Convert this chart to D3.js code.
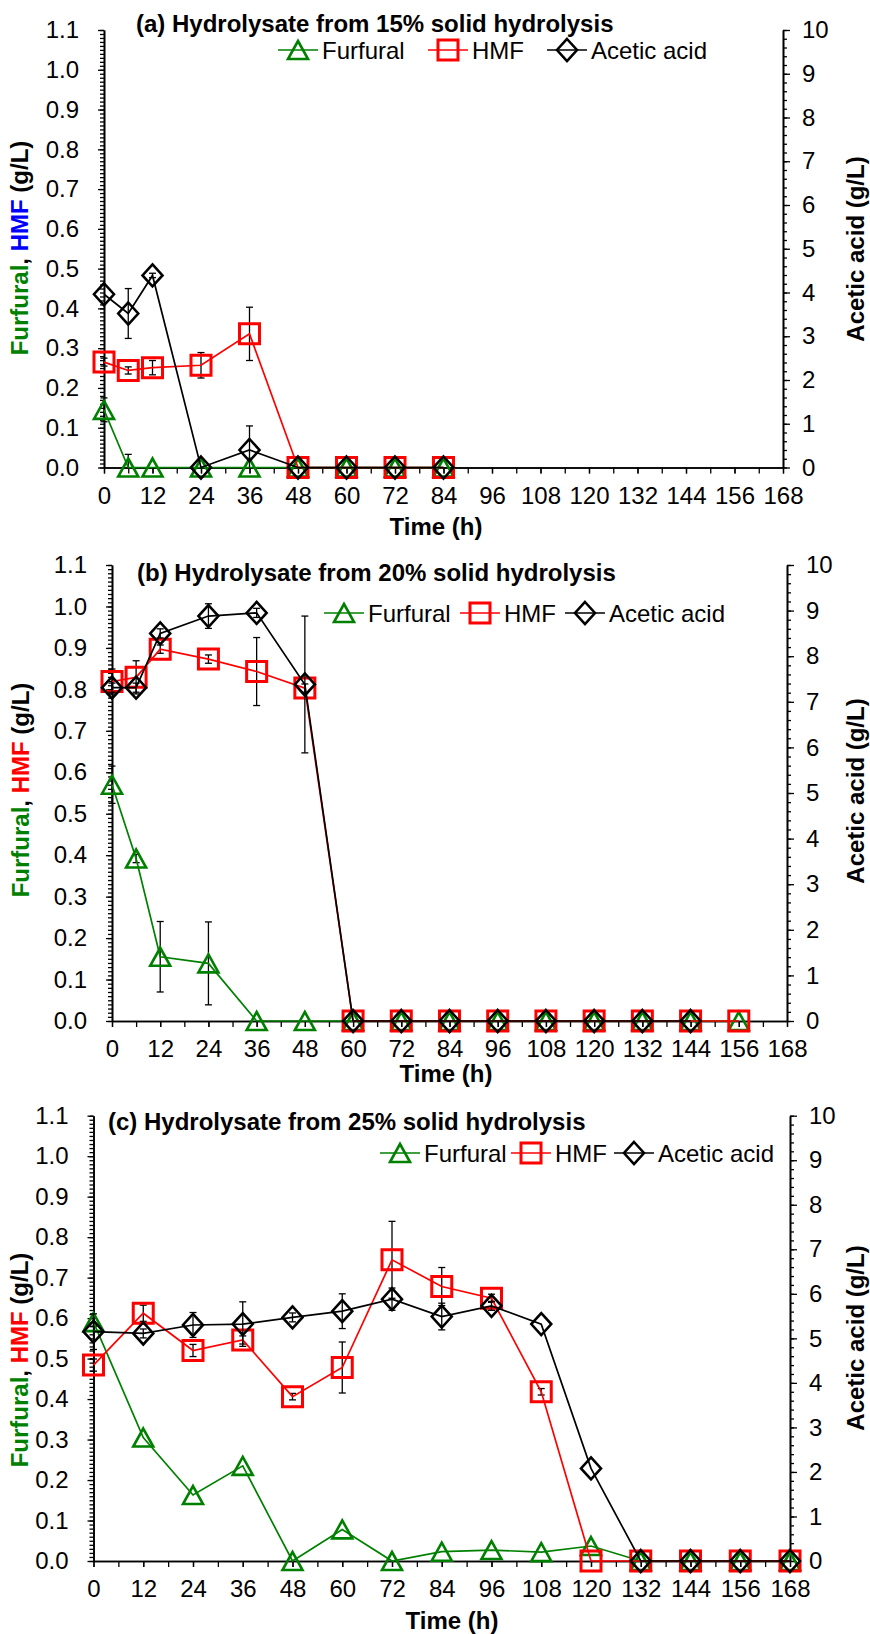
<!DOCTYPE html>
<html><head><meta charset="utf-8">
<script src="https://cdn.jsdelivr.net/npm/d3@7"></script>
<style>
body{margin:0;background:#fff}
svg{display:block}
text{font-family:Arial,"Liberation Sans",sans-serif}
</style>
</head><body>
<svg id="chart" width="870" height="1634"></svg>
<script>
// ---------- tick labels / categories ----------
const xTickValues = [0,12,24,36,48,60,72,84,96,108,120,132,144,156,168];
const leftTickValues = [0,0.1,0.2,0.3,0.4,0.5,0.6,0.7,0.8,0.9,1.0,1.1];
const rightTickValues = [0,1,2,3,4,5,6,7,8,9,10];
const seriesNames = ["Furfural","HMF","Acetic acid"];
const panelTitles = [
  "(a) Hydrolysate from 15% solid hydrolysis",
  "(b) Hydrolysate from 20% solid hydrolysis",
  "(c) Hydrolysate from 25% solid hydrolysis"
];
const xAxisTitle = "Time (h)";
const rightAxisTitle = "Acetic acid (g/L)";

// ---------- panel (a) ----------
const timeA = [0,6,12,24,36,48,60,72,84];
const furfuralA    = [0.145,0,0,0,0,0,0,0,0];
const furfuralErrA = [0.03,0.033,0,0,0,0,0,0,0];
const hmfA    = [0.265,0.244,0.251,0.257,0.336,0,0,0,0];
const hmfErrA = [0.01,0.009,0.018,0.032,0.067,0,0,0,0];
const aceticA    = [3.96,3.52,4.39,0,0.40,0,0,0,0];
const aceticErrA = [0,0.57,0.05,0,0.55,0,0,0,0];

// ---------- panel (b) ----------
const timeB = [0,6,12,24,36,48,60,72,84,96,108,120,132,144,156];
const furfuralB    = [0.57,0.392,0.155,0.139,0,0,0,0,0,0,0,0,0,0,0];
const furfuralErrB = [0.045,0.01,0.085,0.1,0,0,0,0,0,0,0,0,0,0,0];
const hmfB    = [0.819,0.829,0.897,0.873,0.843,0.803,0,0,0,0,0,0,0,0,0];
const hmfErrB = [0.03,0.04,0.01,0.01,0.082,0.01,0,0,0,0,0,0,0,0,0];
const aceticB    = [7.31,7.31,8.50,8.88,8.95,7.38,0,0,0,0,0,0,0,0,null];
const aceticErrB = [0.1,0.1,0.1,0.27,0.1,1.5,0,0,0,0,0,0,0,0,null];

// ---------- panel (c) ----------
const timeC = [0,12,24,36,48,60,72,84,96,108,120,132,144,156,168];
const furfuralC    = [0.59,0.305,0.163,0.235,0,0.078,0,0.023,0.027,0.022,0.037,0,0,0,0];
const furfuralErrC = [0.01,0,0,0,0,0,0,0,0,0,0,0,0,0,0];
const hmfC    = [0.484,0.612,0.520,0.546,0.406,0.478,0.744,0.678,0.649,0.418,0,0,0,0,0];
const hmfErrC = [0.015,0.02,0.015,0.01,0.008,0.063,0.095,0.047,0.01,0.008,0,0,0,0,0];
const aceticC    = [5.15,5.11,5.30,5.32,5.47,5.61,5.88,5.49,5.73,5.32,2.08,0,0,0,0];
const aceticErrC = [0.4,0.1,0.28,0.5,0.1,0.39,0.25,0.3,0.1,0,0,0,0,0,0];

// ---------- styles / layout ----------
const GREEN = "#008000", RED = "#ff0000", BLACK = "#000000";
const FS = 24;

const panels = [
  {time:timeA, fur:furfuralA, furE:furfuralErrA, hmf:hmfA, hmfE:hmfErrA, ac:aceticA, acE:aceticErrA,
   title:panelTitles[0], hmfLabelColor:"#0000ff",
   L:104, R:783, T:30, B:467.5, titleX:136, titleY:32, legY:50, legX:[278,428,547],
   yTitleX:28, yTitleY:248, rTitleX:864, rTitleY:249, xTitleX:436, xTitleY:535},
  {time:timeB, fur:furfuralB, furE:furfuralErrB, hmf:hmfB, hmfE:hmfErrB, ac:aceticB, acE:aceticErrB,
   title:panelTitles[1], hmfLabelColor:RED,
   L:112, R:787, T:565, B:1021, titleX:137, titleY:581, legY:613, legX:[324,460,565],
   yTitleX:29, yTitleY:790, rTitleX:864, rTitleY:791, xTitleX:446, xTitleY:1082},
  {time:timeC, fur:furfuralC, furE:furfuralErrC, hmf:hmfC, hmfE:hmfErrC, ac:aceticC, acE:aceticErrC,
   title:panelTitles[2], hmfLabelColor:RED,
   L:93.5, R:790, T:1115.7, B:1561, titleX:108, titleY:1130, legY:1153, legX:[380,511,614],
   yTitleX:28, yTitleY:1360, rTitleX:864, rTitleY:1338, xTitleX:452, xTitleY:1629}
];

const svg = d3.select("#chart");

const triPath = "M0,-10.5 L10,7.5 L-10,7.5 Z";
const sqPath  = "M-10,-10 H10 V10 H-10 Z";
const diaPath = "M0,-11 L10,0 L0,11 L-10,0 Z";

function marker(g, kind, x, y){
  if(kind===0) g.append("path").attr("d",triPath).attr("transform",`translate(${x},${y+1.5})`)
    .attr("fill","none").attr("stroke",GREEN).attr("stroke-width",2.6);
  if(kind===1) g.append("path").attr("d",sqPath).attr("transform",`translate(${x},${y})`)
    .attr("fill","none").attr("stroke",RED).attr("stroke-width",3);
  if(kind===2) g.append("path").attr("d",diaPath).attr("transform",`translate(${x},${y})`)
    .attr("fill","none").attr("stroke",BLACK).attr("stroke-width",2.6);
}

panels.forEach(p=>{
  const g = svg.append("g");
  const x = d3.scaleLinear().domain([0,168]).range([p.L,p.R]);
  const yL = d3.scaleLinear().domain([0,1.1]).range([p.B,p.T]);
  const yR = d3.scaleLinear().domain([0,10]).range([p.B,p.T]);

  // minor ticks
  const leftMinor = d3.range(0,111).map(i=>i/100);
  const rightMinor = d3.range(0,51).map(i=>i/5);
  const xMinor = d3.range(0,29).map(i=>i*6);

  const gLm = g.append("g").attr("transform",`translate(${p.L},0)`)
    .call(d3.axisLeft(yL).tickValues(leftMinor).tickSize(4).tickSizeOuter(0).tickFormat(""));
  const gRm = g.append("g").attr("transform",`translate(${p.R},0)`)
    .call(d3.axisRight(yR).tickValues(rightMinor).tickSize(4).tickSizeOuter(0).tickFormat(""));
  const gXm = g.append("g").attr("transform",`translate(0,${p.B})`)
    .call(d3.axisBottom(x).tickValues(xMinor).tickSize(6).tickSizeOuter(0).tickFormat(""));

  const gL = g.append("g").attr("transform",`translate(${p.L},0)`)
    .call(d3.axisLeft(yL).tickValues(leftTickValues).tickSize(6).tickSizeOuter(0)
      .tickPadding(19).tickFormat(d3.format(".1f")));
  const gR = g.append("g").attr("transform",`translate(${p.R},0)`)
    .call(d3.axisRight(yR).tickValues(rightTickValues).tickSize(7).tickSizeOuter(0)
      .tickPadding(12).tickFormat(d3.format("d")));
  const gX = g.append("g").attr("transform",`translate(0,${p.B})`)
    .call(d3.axisBottom(x).tickValues(xTickValues).tickSize(6).tickSizeOuter(0).tickPadding(13));

  [gLm,gRm,gXm,gL,gR,gX].forEach(a=>{
    a.selectAll(".domain").attr("stroke",BLACK).attr("stroke-width",1.6);
    a.selectAll(".tick line").attr("stroke",BLACK).attr("stroke-width",1.3);
    a.selectAll("text").attr("font-size",FS).attr("font-family","Arial, 'Liberation Sans', sans-serif").attr("fill",BLACK);
  });

  // series
  const series = [
    {vals:p.fur, errs:p.furE, y:yL, color:GREEN, kind:0},
    {vals:p.hmf, errs:p.hmfE, y:yL, color:RED, kind:1},
    {vals:p.ac,  errs:p.acE,  y:yR, color:BLACK, kind:2}
  ];
  series.forEach(s=>{
    const pts = p.time.map((t,i)=>({t, v:s.vals[i], e:s.errs[i]})).filter(d=>d.v!==null && d.v!==undefined);
    const sg = g.append("g");
    // error bars
    pts.filter(d=>d.e>0).forEach(d=>{
      const y1 = s.y(Math.max(0,d.v-d.e)), y2 = s.y(d.v+d.e), xx = x(d.t);
      sg.append("line").attr("x1",xx).attr("x2",xx).attr("y1",y1).attr("y2",y2).attr("stroke",BLACK).attr("stroke-width",1.3);
      sg.append("line").attr("x1",xx-3.5).attr("x2",xx+3.5).attr("y1",y2).attr("y2",y2).attr("stroke",BLACK).attr("stroke-width",1.3);
      if(d.v-d.e>0) sg.append("line").attr("x1",xx-3.5).attr("x2",xx+3.5).attr("y1",y1).attr("y2",y1).attr("stroke",BLACK).attr("stroke-width",1.3);
    });
    sg.append("path").datum(pts)
      .attr("d", d3.line().x(d=>x(d.t)).y(d=>s.y(d.v)))
      .attr("fill","none").attr("stroke",s.color).attr("stroke-width",1.7);
    pts.forEach(d=>marker(sg, s.kind, x(d.t), s.y(d.v)));
  });

  // title
  g.append("text").attr("x",p.titleX).attr("y",p.titleY).attr("font-size",FS).attr("font-weight","bold")
    .attr("fill",BLACK).text(p.title);

  // legend
  const legColors = [GREEN,RED,BLACK];
  seriesNames.forEach((n,i)=>{
    const lx = p.legX[i];
    g.append("line").attr("x1",lx).attr("x2",lx+40).attr("y1",p.legY).attr("y2",p.legY)
      .attr("stroke",legColors[i]).attr("stroke-width",1.7);
    marker(g, i, lx+20, p.legY);
    g.append("text").attr("x",lx+44).attr("y",p.legY+8.5).attr("font-size",FS).attr("fill",BLACK).text(n);
  });

  // axis titles
  const yt = g.append("text").attr("transform",`translate(${p.yTitleX},${p.yTitleY}) rotate(-90)`)
    .attr("text-anchor","middle").attr("font-size",FS).attr("font-weight","bold");
  yt.append("tspan").attr("fill",GREEN).text("Furfural");
  yt.append("tspan").attr("fill",BLACK).text(", ");
  yt.append("tspan").attr("fill",p.hmfLabelColor).text("HMF");
  yt.append("tspan").attr("fill",BLACK).text(" (g/L)");

  g.append("text").attr("transform",`translate(${p.rTitleX},${p.rTitleY}) rotate(-90)`)
    .attr("text-anchor","middle").attr("font-size",FS).attr("font-weight","bold").attr("fill",BLACK)
    .text(rightAxisTitle);

  g.append("text").attr("x",p.xTitleX).attr("y",p.xTitleY).attr("text-anchor","middle")
    .attr("font-size",FS).attr("font-weight","bold").attr("fill",BLACK).text(xAxisTitle);
});
</script>
</body></html>
